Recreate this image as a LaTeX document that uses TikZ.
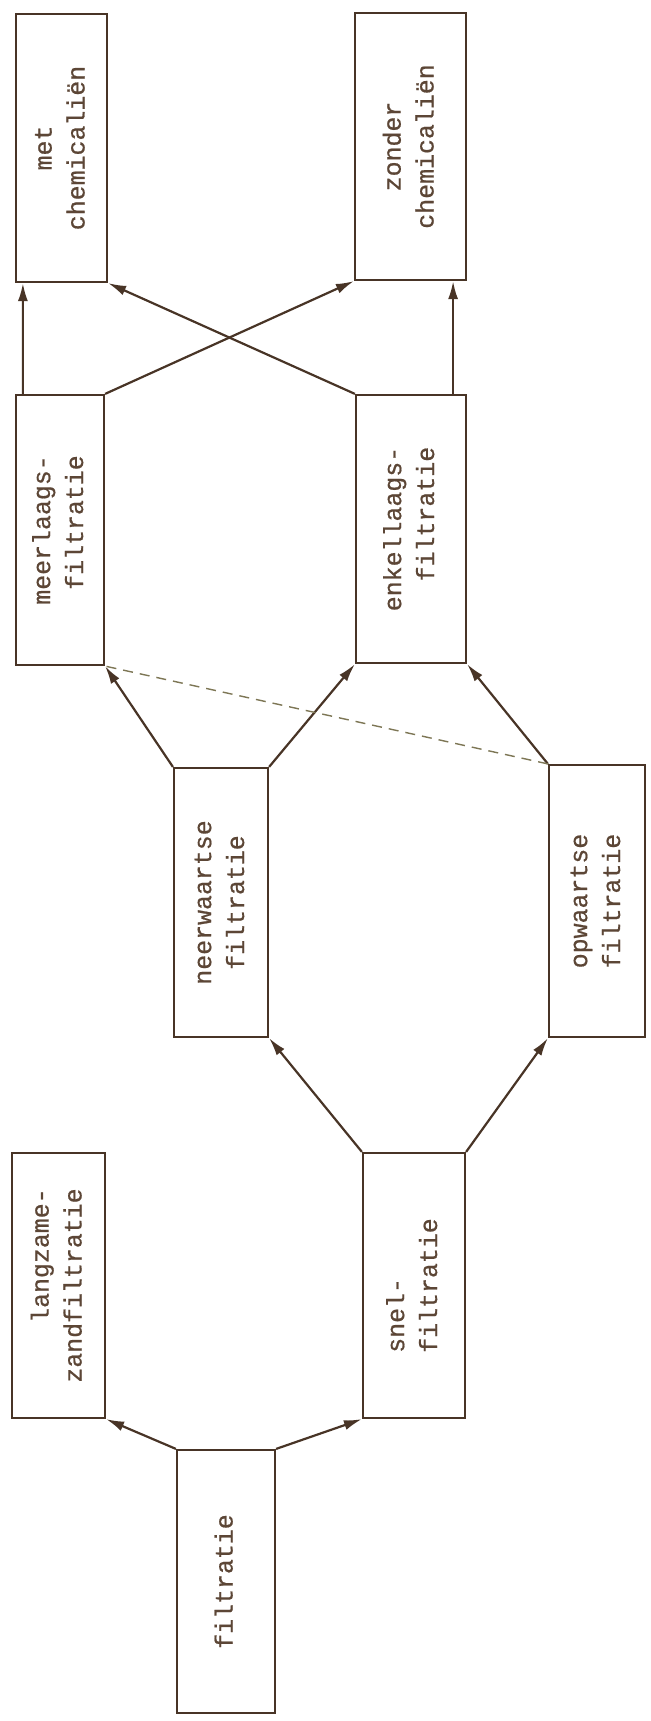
\documentclass[tikz,border=0pt]{standalone}
\usepackage{fontspec}
\newfontfamily\tw{Liberation Mono}[FakeBold=0.7]
\usepackage{graphicx}
\usetikzlibrary{arrows.meta}
\definecolor{ink}{RGB}{72,52,38}
\definecolor{txt}{RGB}{92,70,54}
\definecolor{dashc}{RGB}{125,118,85}
\newcommand{\vlab}[2][c]{\rotatebox{90}{\begin{tabular}{@{}#1@{}}#2\end{tabular}}}
\begin{document}
\begin{tikzpicture}[x=1bp,y=-1bp,
  box/.style={draw=ink, line width=2.2bp, inner sep=0pt, text=txt,
    font=\tw\fontsize{25}{33}\selectfont},
  arr/.style={draw=ink, line width=2.2bp, -{Latex[length=18bp,width=10bp]}},
  dsh/.style={draw=dashc, line width=1.4bp, dash pattern=on 10bp off 7bp}]
\useasboundingbox (0,0) rectangle (651,1721);

\node[box, minimum width=91bp, minimum height=268bp] (met) at (61.5,148) {\vlab{met\\chemicaliën}};
\node[box, minimum width=111bp, minimum height=267bp] (zon) at (410.5,146.5) {\vlab{zonder\\chemicaliën}};
\node[box, minimum width=88bp, minimum height=270bp] (meer) at (60,530) {\vlab[r]{meerlaags-\\filtratie}};
\node[box, minimum width=110bp, minimum height=268bp] (enk) at (411,529) {\vlab[r]{enkellaags-\\filtratie}};
\node[box, minimum width=94bp, minimum height=269bp] (neer) at (221,902.5) {\vlab{neerwaartse\\filtratie}};
\node[box, minimum width=96bp, minimum height=272bp] (op) at (597,901) {\vlab{opwaartse\\filtratie}};
\node[box, minimum width=93bp, minimum height=265bp] (lang) at (58.5,1285.5) {\vlab[r]{langzame-\\zandfiltratie}};
\node[box, minimum width=102bp, minimum height=265bp] (snel) at (414,1285.5) {\vlab[l]{snel-\\filtratie}};
\node[box, minimum width=98bp, minimum height=263bp] (filt) at (226,1581.5) {\vlab{filtratie}};

\draw[arr] (filt.north west) -- (lang.south east);
\draw[arr] (filt.north east) -- (snel.south west);
\draw[arr] (snel.north west) -- (neer.south east);
\draw[arr] (snel.north east) -- (op.south west);
\draw[arr] (neer.north west) -- (meer.south east);
\draw[arr] (neer.north east) -- (enk.south west);
\draw[arr] (op.north west) -- (enk.south east);
\draw[dsh] (op.north west) -- (meer.south east);
\draw[arr] ([xshift=8bp]meer.north west) -- ([xshift=8bp]met.south west);
\draw[arr] (meer.north east) -- (zon.south west);
\draw[arr] (enk.north west) -- (met.south east);
\draw[arr] ([xshift=-14bp]enk.north east) -- ([xshift=-14bp]zon.south east);
\end{tikzpicture}
\end{document}
